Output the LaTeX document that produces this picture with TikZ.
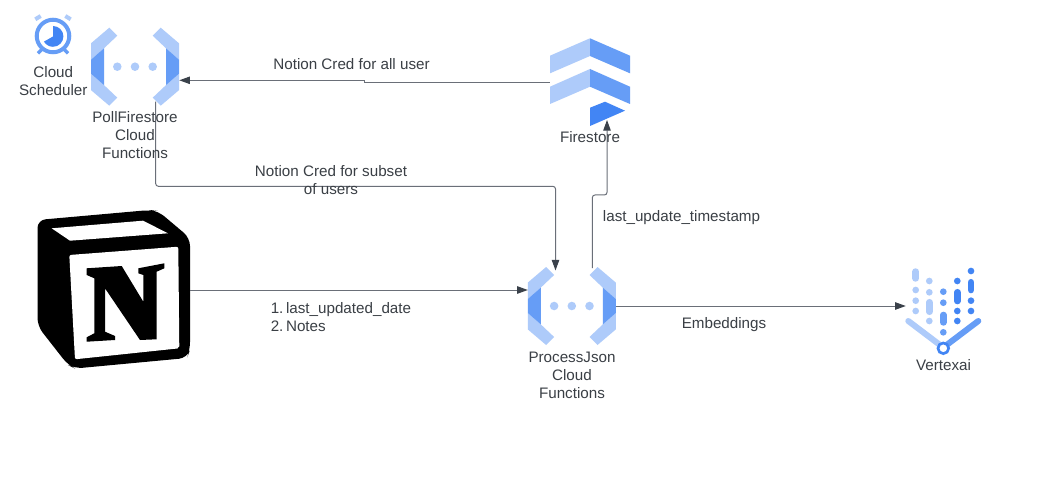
\documentclass[tikz,border=0pt]{standalone}
\usepackage{fontspec}
\setmainfont{Liberation Sans}
\usetikzlibrary{arrows.meta}
\definecolor{gcplight}{HTML}{AECBFA}
\definecolor{gcpmid}{HTML}{669DF6}
\definecolor{gcpdark}{HTML}{4285F4}
\definecolor{linegrey}{HTML}{6A6F78}
\definecolor{tipgrey}{HTML}{3A414A}
\definecolor{textgrey}{HTML}{3A3F45}
\tikzset{
	conn/.style={draw=linegrey, line width=0.75pt, rounded corners=2pt,
		-{Triangle[length=8pt,width=5.6pt,color=tipgrey]}},
	label/.style={text=textgrey, align=center, inner sep=0pt,
		font=\fontsize{11.4}{13.5}\selectfont},
	iconbox/.style={inner sep=0pt, minimum width=#1*0.75pt},
	pill/.style={line width=5pt, line cap=round},
	pics/funcicon/.style={code={
		\foreach \s in {-1,1} {
			\fill[gcplight] (\s*25.7,-39) -- (\s*17.7,-31) -- (\s*31,-18.4) -- (\s*44,-7) -- (\s*44,-23.4) -- cycle;
			\fill[gcplight] (\s*25.7,39) -- (\s*17.7,31) -- (\s*31,18.4) -- (\s*44,7) -- (\s*44,23.4) -- cycle;
			\fill[gcpmid] (\s*31,-18.4) -- (\s*44,-7) -- (\s*44,7) -- (\s*31,18.4) -- cycle;
			\fill[gcplight] (\s*17.7,0) circle (3.2pt);
		}
		\fill[gcplight] (0,0) circle (3.2pt);
	}}
}
\begin{document}
\begin{tikzpicture}[x=0.75pt,y=-0.75pt]
	\useasboundingbox (0,0) rectangle (1052,488);
	\fill[white] (0,0) rectangle (1052,488);
	% cloud scheduler clock
	\node[iconbox=40, minimum height=30pt] (clock) at (53,36) {};
	\draw[gcplight, line width=3pt] (35.3,19.3) -- (40.7,16);
	\draw[gcplight, line width=3pt] (70.7,19.3) -- (65.3,16);
	\draw[gcpmid, line width=2.6pt] (38,53.3) -- (42,49.3);
	\draw[gcpmid, line width=2.6pt] (68,53.3) -- (64,49.3);
	\draw[gcpmid, line width=3pt, fill=white] (clock.center) circle (12.2pt);
	\fill[gcpdark] (53,36.5) -- (53,26) arc[start angle=90, end angle=-150, radius=7.8pt] -- cycle;
	% function icons
	\node[iconbox=88, minimum height=58.5pt] (poll) at (135,66.7) {};
	\pic at (poll.center) {funcicon};
	\node[iconbox=88, minimum height=58.5pt] (proc) at (571.8,306) {};
	\pic at (proc.center) {funcicon};
	% firestore
	\node[iconbox=80, minimum height=66pt] (fire) at (590,82.3) {};
	\fill[gcplight] (550,55.7) -- (590,38.3) -- (590,56) -- (550,73.3) -- cycle;
	\fill[gcpmid] (590,38.3) -- (630,55.7) -- (630,73.3) -- (590,56) -- cycle;
	\fill[gcplight] (550,86.7) -- (590,69) -- (590,86.7) -- (550,104) -- cycle;
	\fill[gcpmid] (590,69) -- (630,86.7) -- (630,104) -- (590,86.7) -- cycle;
	\fill[gcpdark] (590,107.7) -- (605,101.7) -- (625,110.7) -- (590,126) -- cycle;
	% notion cube
	\node[iconbox=153, minimum height=118pt] (notion) at (113.5,290) {};
	\fill[black, rounded corners=6pt] (37.5,220) -- (150,210) -- (158,211) -- (190,238) -- (190,350) -- (187,358) -- (75,368.5) -- (68,365) -- (37.5,326) -- cycle;
	\fill[white] (51.7,228.3) -- (143,220.7) -- (168,233.3) -- (70,240.7) -- cycle;
	\fill[white, rounded corners=1.5pt] (69.3,255) -- (178.3,246.7) -- (179.3,348.3) -- (75,359.3) -- cycle;
	\fill[black] (86.7,268.3) -- (121.7,266) -- (143.3,301.7) -- (143.3,275) -- (138.3,273.3) -- (138.3,268.3) -- (164.3,263.3) -- (164.3,268.3) -- (156.7,271.7) -- (156.7,339.3) -- (140,340) -- (105,288.3) -- (105,331.7) -- (115,336) -- (115,340) -- (86.7,341.7) -- (86.7,337.3) -- (94.3,333.3) -- (94.3,278.3) -- (86.7,275) -- cycle;
	% vertex ai
	\node[iconbox=75, minimum height=60pt] (vertex) at (943.5,306) {};
	\draw[gcplight, pill] (915.7,271.6) -- (915.7,278.4);
	\draw[gcplight, pill] (929.3,302.3) -- (929.3,311.7);
	\draw[gcpmid, pill] (943.3,315) -- (943.3,322.4);
	\draw[gcpdark, pill] (957.3,292.3) -- (957.3,301);
	\draw[gcpdark, pill] (971,282.3) -- (971,290);
	\foreach \y in {290,300.7,311} \fill[gcplight] (915.7,\y) circle (2.5pt);
	\foreach \y in {281,292.3,321} \fill[gcplight] (929.3,\y) circle (2.5pt);
	\foreach \y in {291.7,302.7,332.3} \fill[gcpmid] (943.3,\y) circle (2.5pt);
	\foreach \y in {281,311,321} \fill[gcpdark] (957.3,\y) circle (2.5pt);
	\foreach \y in {271,300.7,311} \fill[gcpdark] (971,\y) circle (2.5pt);
	\draw[gcplight, line width=4.5pt, line cap=round] (908.3,321) -- (940,345);
	\draw[gcpmid, line width=4.5pt, line cap=round] (978.3,321) -- (946.6,345);
	\draw[gcpdark, line width=2pt, fill=white] (943.3,348.3) circle (4pt);
	% connector ends
	\coordinate (pollin) at (179.3,80.3);
	\coordinate (pollout) at (155.7,101.7);
	\coordinate (procin) at (527.8,290);
	\coordinate (proctop) at (555.5,270.5);
	\coordinate (procout) at (592.3,268);
	\coordinate (firein) at (607,120);
	% connectors
	\draw[conn, sharp corners] (fire.west) -- ++(-185,0) -- ++(0,-2) -- (pollin);
	\draw[conn] (pollout) -- ++(0,84.6) -| (proctop);
	\draw[conn] (notion.east) -- (procin);
	\draw[conn] (procout) -- ++(0,-73) -| (firein);
	\draw[conn] (proc.east) -- (vertex.west);
	% icon labels
	\node[label] (clocktxt) at (53.3,81) {Cloud\\Scheduler};
	\node[label] (polltxt) at (135,135) {PollFirestore\\Cloud\\Functions};
	\node[label] (firetxt) at (590,136.7) {Firestore};
	\node[label] (proctxt) at (572,375) {ProcessJson\\Cloud\\Functions};
	\node[label] (vertextxt) at (943.5,365) {Vertexai};
	% connector labels
	\node[label] (allcred) at (351.5,64.5) {Notion Cred for all user};
	\node[label] (subcred) at (331,180) {Notion Cred for subset\\of users};
	\node[label] (stamp) at (681.5,217.3) {last\_update\_timestamp};
	\node[label, align=left, anchor=west] (notes) at (270.5,317) {1.\hspace{0.17em}last\_updated\_date\\2.\hspace{0.17em}Notes};
	\node[label] (embed) at (724,324.5) {Embeddings};
\end{tikzpicture}
\end{document}
